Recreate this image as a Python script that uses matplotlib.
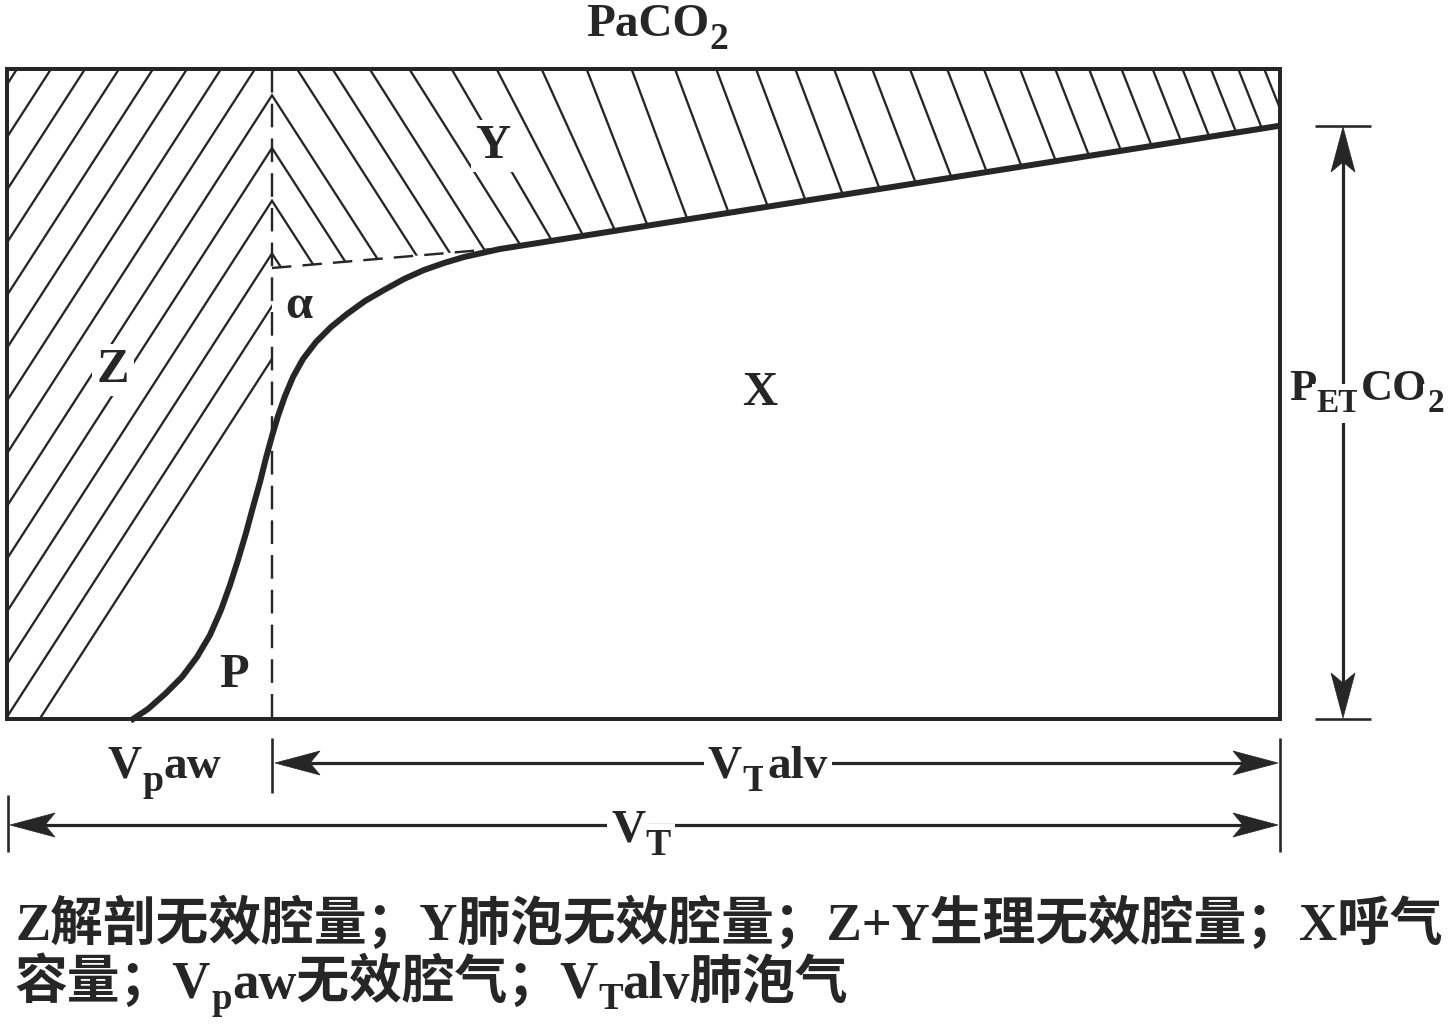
import numpy as np
import matplotlib.pyplot as plt
from matplotlib.patches import Polygon, Rectangle
from matplotlib.collections import LineCollection

# ---------------------------------------------------------------------------
# Volumetric capnogram (single-breath CO2 vs expired volume) -- schematic.
# All coordinates below are in picture pixels, y pointing down.
# ---------------------------------------------------------------------------

# expired CO2 curve
curve_x = [133, 148, 165, 182, 197, 210, 221, 230, 238, 246, 253, 260, 266, 272,
           278, 285, 293, 303, 316, 331, 347, 365, 384, 404, 424, 444, 464, 482,
           500, 1278]
curve_y = [719, 709, 694, 677, 657, 635, 610, 585, 560, 533, 507, 482, 458, 436,
           416, 396, 377, 359, 342, 327, 314, 301, 290, 279, 270, 263, 257, 253,
           249, 126]

# dashed back-extrapolation of phase III to the airway / alveolar boundary
dash_x = [272, 494]
dash_y = [268, 249]

region_labels = ['Y', 'Z', 'X', 'P', 'α']
# labels with subscripts: (text, is_subscript) pieces
paco2_label = [('PaCO', False), ('2', True)]
petco2_label = [('P', False), ('ET', True), ('CO', False), ('2', True)]
vpaw_label = [('V', False), ('p', True), ('aw', False)]
vtalv_label = [('V', False), ('T', True), ('alv', False)]
vt_label = [('V', False), ('T', True)]

caption_1 = [('Z解剖无效腔量；Y肺泡无效腔量；Z+Y生理无效腔量；X呼气', False)]
caption_2 = [('容量；V', False), ('p', True), ('aw无效腔气；V', False), ('T', True),
             ('alv肺泡气', False)]

# ---------------------------------------------------------------------------
INK = '#262626'
PX = 0.72                      # points per pixel at dpi 100
FAM = ['Liberation Serif', 'Noto Sans CJK SC']
L, R, T, B = 7, 1280, 69, 719  # frame of the capnogram
V = 272                        # airway / alveolar boundary
plt.rcParams['lines.scale_dashes'] = False

fig = plt.figure(figsize=(14.55, 10.24), dpi=100)
ax = fig.add_axes([0, 0, 1, 1])
ax.set_xlim(0, 1455)
ax.set_ylim(1024, 0)
ax.axis('off')

cx = np.array(curve_x, float)
cy = np.array(curve_y, float)

# ---------------- hatched regions ----------------
# Z: anatomical dead space, left of the boundary and above the curve
y_cross = np.interp(V, cx, cy)
left = cx <= V
z_verts = [(L, T), (V, T), (V, y_cross)] + list(zip(cx[left][::-1], cy[left][::-1])) + [(L, B)]
z_patch = Polygon(z_verts, closed=True, fc='none', ec='none')
ax.add_patch(z_patch)

# Y: alveolar dead space, above the dashed line and phase III
y_verts = [(V, T), (R, T), (R, cy[-1]), (curve_x[-2], curve_y[-2]),
           (dash_x[1], dash_y[1]), (dash_x[0], dash_y[0])]
y_patch = Polygon(y_verts, closed=True, fc='none', ec='none')
ax.add_patch(y_patch)

s = 1.55                                    # slope of the "/" hatch in Z
z_tops = 289 + 34 * np.arange(-9, 6)
z_segs = [[(xt, T), (xt - (B - T + 20) / s, B + 20)] for xt in z_tops]
z_lc = LineCollection(z_segs, colors=INK, linewidths=2.3 * PX)
ax.add_collection(z_lc)
z_lc.set_clip_path(z_patch)

# "\" hatch in Y: mirror of Z at the boundary, then drifting spacing/angle
y_tops = list(2 * V - z_tops[z_tops > V])[::-1]
xt = y_tops[-1]
while True:
    xt = xt + np.interp(xt, [255, 300, 450, 600, 700, 1000, 1150, 1260],
                        [42, 35, 45, 45, 40, 36, 30, 25])
    if xt >= R:
        break
    y_tops.append(xt)
y_segs = []
for xt in y_tops:
    r = np.interp(xt, [255, 420, 600, 1280], [1 / s, 0.63, 0.37, 0.40])
    y_segs.append([(xt, T), (xt + r * 400, T + 400)])
y_lc = LineCollection(y_segs, colors=INK, linewidths=2.3 * PX)
ax.add_collection(y_lc)
y_lc.set_clip_path(y_patch)

# ---------------- frame, curve, dashed lines ----------------
ax.add_patch(Rectangle((L, T), R - L, B - T, fill=False, ec=INK, lw=4 * PX,
                       joinstyle='miter', zorder=3))
ax.plot(cx, cy, color=INK, lw=6 * PX, solid_joinstyle='round', zorder=4)
ax.plot([V, V], [T, B], color=INK, lw=2.4 * PX, ls=(0, (17, 8)), zorder=3)
ax.plot(dash_x, dash_y, color=INK, lw=2.4 * PX, ls=(0, (14, 8)), zorder=3)


def stealth(tip, direction, length=45, half=12, notch=10):
    d = np.asarray(direction, float)
    d = d / np.hypot(*d)
    n = np.array([-d[1], d[0]])
    tip = np.asarray(tip, float)
    base = tip - d * length
    pts = [tip, base + n * half, tip - d * (length - notch), base - n * half]
    ax.add_patch(Polygon(pts, closed=True, fc=INK, ec=INK, lw=0.5, zorder=4))


# ---------------- dimension lines ----------------
dim_kw = dict(color=INK, lw=3.2 * PX, solid_capstyle='butt', zorder=3)
tick_kw = dict(color=INK, lw=2.6 * PX, solid_capstyle='butt', zorder=3)
# V_T alv
ax.plot([V + 10, R - 10], [763, 763], **dim_kw)
stealth((V + 3, 763), (-1, 0))
stealth((R - 2, 763), (1, 0))
# V_T
ax.plot([L + 10, R - 10], [825, 825], **dim_kw)
stealth((L + 3, 825), (-1, 0))
stealth((R - 2, 825), (1, 0))
# ticks
ax.plot([V, V], [738, 793], **tick_kw)
ax.plot([R, R], [738, 852], **tick_kw)
ax.plot([L + 1, L + 1], [795, 852], **tick_kw)
# P_ET CO2
PE = 1343
ax.plot([PE, PE], [cy[-1] + 10, B - 10], **dim_kw)
stealth((PE, cy[-1] + 1), (0, -1))
stealth((PE, B - 1), (0, 1))
ax.plot([1315, 1371], [cy[-1], cy[-1]], **tick_kw)
ax.plot([1315, 1371], [B, B], **tick_kw)


# ---------------- labels ----------------
def chain(x, y, pieces, size, bbox=None, sub_scale=0.8, drop=0.28):
    """Write text pieces one after another on one baseline; subscripts are
    smaller and dropped."""
    prev = None
    for txt, sub in pieces:
        fs = size * sub_scale if sub else size
        dy = -size * drop if sub else 0
        kw = dict(family=FAM, weight='bold', color=INK, fontsize=fs,
                  ha='left', va='baseline', zorder=6, bbox=bbox)
        if prev is None:
            prev = ax.annotate(txt, xy=(x, y), xycoords='data',
                               xytext=(0, dy), textcoords='offset points', **kw)
        else:
            prev = ax.annotate(txt, xy=(1, y), xycoords=(prev, 'data'),
                               xytext=(0, dy), textcoords='offset points', **kw)
    return prev


white = dict(fc='white', ec='none', pad=3)
label_pos = {'Y': (493, 158), 'Z': (113, 382), 'X': (760, 405), 'P': (234, 687),
             'α': (299, 318)}
for lab in region_labels:
    x, y = label_pos[lab]
    ax.text(x, y, lab, ha='center', va='baseline', family=FAM, weight='bold',
            color=INK, fontsize=35, zorder=6,
            bbox=white if lab in ('Y', 'Z') else None)

chain(586, 36, paco2_label, 34)
chain(1289, 400, petco2_label, 32, bbox=white, sub_scale=0.75)
chain(108, 778, vpaw_label, 34)
chain(708, 778, vtalv_label, 34, bbox=white)
chain(611, 842, vt_label, 34, bbox=white)

# ---------------- caption ----------------
chain(15, 940, caption_1, 38, sub_scale=0.75, drop=0.3)
chain(15, 998, caption_2, 38, sub_scale=0.7, drop=0.2)

fig.savefig('out.png', dpi=100)
